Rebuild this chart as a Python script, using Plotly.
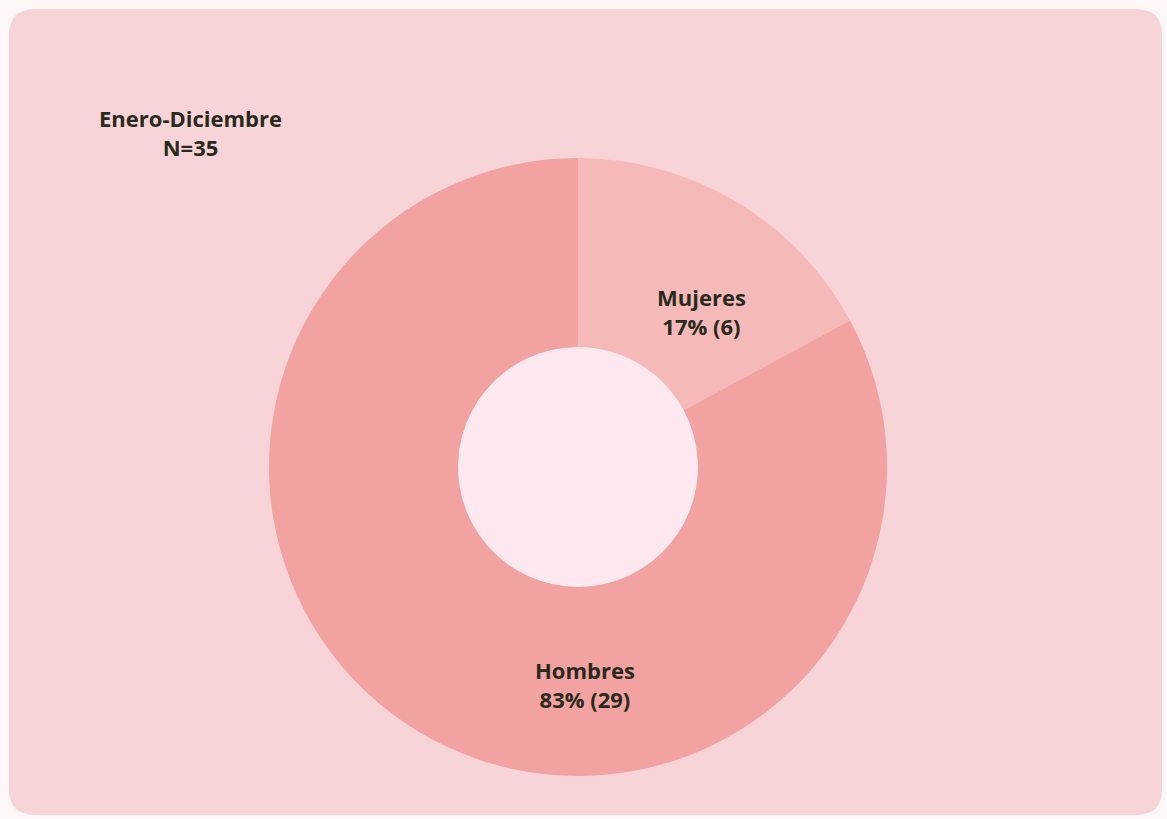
import plotly.graph_objects as go

labels = ["Mujeres", "Hombres"]
values = [6, 29]
percents = ["17%", "83%"]
colors = ["#F6B9B9", "#F2A2A1"]
title_lines = ["Enero-Diciembre", "N=35"]

W, H = 1167, 819
cx, cy, R = 578, 467, 309
hole_r = 120

fig = go.Figure()
fig.add_trace(go.Pie(
    labels=labels, values=values, sort=False, direction="clockwise", rotation=0,
    hole=hole_r / R,
    marker=dict(colors=colors, line=dict(width=0)),
    textinfo="none", hoverinfo="label+value+percent", showlegend=False,
    domain=dict(x=[(cx - R) / W, (cx + R) / W], y=[1 - (cy + R) / H, 1 - (cy - R) / H]),
))

font = dict(family="Open Sans, Noto Sans, sans-serif", size=22, color="#2A2A1C")

def pt(px, py):
    return px / W, 1 - py / H

annotations = []
def ann(px, py, text):
    x, y = pt(px, py)
    annotations.append(dict(x=x, y=y, xref="paper", yref="paper", showarrow=False,
                            xanchor="center", yanchor="middle",
                            text=text, font=font, align="center"))

ann(190, 133, "<b>" + title_lines[0] + "<br>" + title_lines[1] + "</b>")
ann(701, 311, f"<b>{labels[0]}<br>{percents[0]} ({values[0]})</b>")
ann(585, 684, f"<b>{labels[1]}<br>{percents[1]} ({values[1]})</b>")

# rounded panel
x0, y0, x1, y1 = 9, 9, 1162, 815
r = 26
rx, ry = r / W, r / H
X0, X1 = x0 / W, x1 / W
Y0, Y1 = 1 - y1 / H, 1 - y0 / H
path = (f"M {X0+rx},{Y1} L {X1-rx},{Y1} Q {X1},{Y1} {X1},{Y1-ry} "
        f"L {X1},{Y0+ry} Q {X1},{Y0} {X1-rx},{Y0} L {X0+rx},{Y0} "
        f"Q {X0},{Y0} {X0},{Y0+ry} L {X0},{Y1-ry} Q {X0},{Y1} {X0+rx},{Y1} Z")
shapes = [
    dict(type="path", xref="paper", yref="paper", path=path, fillcolor="#F8D4D8",
         line=dict(width=0), layer="below"),
    dict(type="circle", xref="paper", yref="paper",
         x0=(cx - hole_r) / W, x1=(cx + hole_r) / W,
         y0=1 - (cy + hole_r) / H, y1=1 - (cy - hole_r) / H,
         fillcolor="#FCE8EE", line=dict(width=0), layer="below"),
]

fig.update_layout(
    width=W, height=H, margin=dict(l=0, r=0, t=0, b=0),
    paper_bgcolor="#FDF7F8", plot_bgcolor="rgba(0,0,0,0)",
    annotations=annotations, shapes=shapes,
)
fig.write_html("out.html", config={"displayModeBar": False},
               post_script="document.body.style.margin='0';document.body.style.overflow='hidden';")
